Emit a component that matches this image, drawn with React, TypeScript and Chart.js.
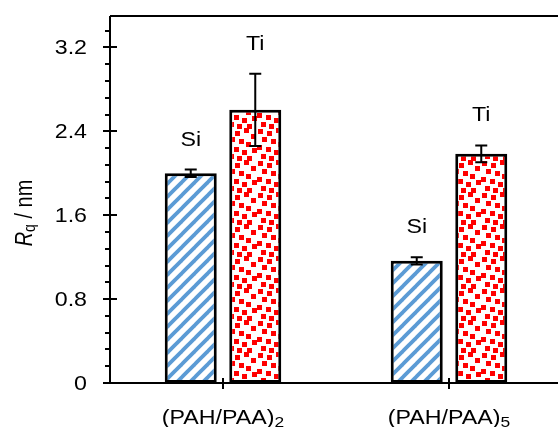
import React, { useEffect, useRef } from "react";
import { Chart, registerables } from "chart.js";

Chart.register(...registerables);

const categoryNames = ["(PAH/PAA)", "(PAH/PAA)"];
const categorySubscripts = ["2", "5"];
const seriesNames = ["Si", "Ti"];
const siValues = [2.0, 1.165];
const siErrors = [0.035, 0.035];
const tiValues = [2.605, 2.186];
const tiErrors = [0.345, 0.08];
const yTickLabels = ["0", "0.8", "1.6", "2.4", "3.2"];
const yMinorStep = 0.16;
const yMin = 0;
const yMax = 3.5;

const FONT = '"Liberation Sans", Arial, sans-serif';
const STRETCH = 1.16;

type Run = { text: string; size: number; italic?: boolean; dy?: number };

function drawRuns(
  ctx: CanvasRenderingContext2D,
  runs: Run[],
  align: "left" | "center" | "right"
) {
  let total = 0;
  const widths = runs.map((r) => {
    ctx.font = `${r.italic ? "italic " : ""}${r.size}px ${FONT}`;
    const w = ctx.measureText(r.text).width;
    total += w;
    return w;
  });
  let x = align === "center" ? -total / 2 : align === "right" ? -total : 0;
  ctx.textBaseline = "alphabetic";
  ctx.textAlign = "left";
  ctx.fillStyle = "#000";
  runs.forEach((r, i) => {
    ctx.font = `${r.italic ? "italic " : ""}${r.size}px ${FONT}`;
    ctx.fillText(r.text, x, r.dy || 0);
    x += widths[i];
  });
}

function makeStripePattern(ctx: CanvasRenderingContext2D) {
  const s = 13;
  const c = document.createElement("canvas");
  c.width = s;
  c.height = s;
  const g = c.getContext("2d")!;
  g.fillStyle = "#fff";
  g.fillRect(0, 0, s, s);
  g.strokeStyle = "#5B9BD5";
  g.lineWidth = 3.8;
  g.lineCap = "square";
  for (const k of [-s, 0, s]) {
    g.beginPath();
    g.moveTo(k, s);
    g.lineTo(k + s, 0);
    g.stroke();
  }
  return ctx.createPattern(c, "repeat")!;
}

function makeDotPattern(ctx: CanvasRenderingContext2D) {
  const s = 32;
  const c = document.createElement("canvas");
  c.width = s;
  c.height = s;
  const g = c.getContext("2d")!;
  g.fillStyle = "#fff";
  g.fillRect(0, 0, s, s);
  g.fillStyle = "#FF0000";
  const pts = [
    [2, 1], [11, 3], [20, 0], [27, 6],
    [6, 9], [15, 11], [22, 14],
    [1, 17], [10, 19], [18, 22], [28, 20],
    [5, 26], [13, 28], [23, 28],
  ];
  const q = 5;
  for (const [x, y] of pts) {
    for (const ox of [0, -s]) {
      for (const oy of [0, -s]) {
        g.fillRect(x + ox, y + oy, q, q);
      }
    }
  }
  return ctx.createPattern(c, "repeat")!;
}

const errors = [siErrors, tiErrors];

const decorPlugin = {
  id: "decor",
  afterDatasetsDraw(chart: any) {
    const ctx: CanvasRenderingContext2D = chart.ctx;
    const area = chart.chartArea;
    const xs = chart.scales.x;
    const ys = chart.scales.y;
    ctx.save();
    ctx.strokeStyle = "#000";
    ctx.lineWidth = 2;

    // error bars and series labels
    chart.data.datasets.forEach((ds: any, di: number) => {
      const meta = chart.getDatasetMeta(di);
      meta.data.forEach((el: any, i: number) => {
        const v = ds.data[i];
        const e = errors[di][i];
        const yt = ys.getPixelForValue(v + e);
        const yb = ys.getPixelForValue(v - e);
        const x = el.x;
        ctx.beginPath();
        ctx.moveTo(x, yt);
        ctx.lineTo(x, yb);
        ctx.moveTo(x - 6, yt);
        ctx.lineTo(x + 6, yt);
        ctx.moveTo(x - 6, yb);
        ctx.lineTo(x + 6, yb);
        ctx.stroke();
        ctx.save();
        ctx.translate(x, yt - 24);
        ctx.scale(STRETCH, 1);
        drawRuns(ctx, [{ text: seriesNames[di], size: 20 }], "center");
        ctx.restore();
      });
    });

    // axes lines
    const L = Math.round(area.left);
    const B = Math.round(area.bottom);
    const T = Math.round(area.top);
    ctx.beginPath();
    ctx.moveTo(L, T);
    ctx.lineTo(L, B);
    ctx.moveTo(L, T);
    ctx.lineTo(chart.width, T);
    ctx.moveTo(L - 7, B);
    ctx.lineTo(chart.width, B);
    ctx.stroke();

    // y ticks major
    yTickLabels.forEach((lab) => {
      const y = Math.round(ys.getPixelForValue(parseFloat(lab)));
      ctx.beginPath();
      ctx.moveTo(L - 7, y);
      ctx.lineTo(L + 7, y);
      ctx.stroke();
      ctx.save();
      ctx.translate(L - 23, y + 7);
      ctx.scale(STRETCH, 1);
      drawRuns(ctx, [{ text: lab, size: 20 }], "right");
      ctx.restore();
    });
    // y minor ticks
    for (let k = 1; k * yMinorStep <= yMax + 1e-9; k++) {
      if (k % 5 === 0) continue;
      const y = Math.round(ys.getPixelForValue(k * yMinorStep));
      ctx.beginPath();
      ctx.moveTo(L - 5, y);
      ctx.lineTo(L, y);
      ctx.stroke();
    }

    // x category ticks and labels
    categoryNames.forEach((name, i) => {
      const x = Math.round(xs.getPixelForValue(i));
      ctx.beginPath();
      ctx.moveTo(x, B - 5);
      ctx.lineTo(x, B + 6);
      ctx.stroke();
      ctx.save();
      ctx.translate(x, 424);
      ctx.scale(STRETCH, 1);
      drawRuns(
        ctx,
        [
          { text: name, size: 20 },
          { text: categorySubscripts[i], size: 15, dy: 3 },
        ],
        "center"
      );
      ctx.restore();
    });

    // y title
    ctx.save();
    ctx.translate(32, 213);
    ctx.rotate(-Math.PI / 2);
    ctx.scale(1, STRETCH);
    drawRuns(
      ctx,
      [
        { text: "R", size: 20, italic: true },
        { text: "q", size: 14, dy: 3 },
        { text: " / nm", size: 20 },
      ],
      "center"
    );
    ctx.restore();

    ctx.restore();
  },
};

export default function App() {
  const ref = useRef<HTMLCanvasElement>(null);
  useEffect(() => {
    const canvas = ref.current!;
    const ctx = canvas.getContext("2d")!;
    const stripes = makeStripePattern(ctx);
    const dots = makeDotPattern(ctx);
    const chart = new Chart(canvas, {
      type: "bar",
      data: {
        labels: categoryNames.map((n, i) => n + categorySubscripts[i]),
        datasets: [
          {
            label: seriesNames[0],
            data: siValues,
            backgroundColor: stripes as any,
            borderColor: "#000",
            borderWidth: 3,
            borderSkipped: false,
            categoryPercentage: 0.571,
            barPercentage: 0.806,
          },
          {
            label: seriesNames[1],
            data: tiValues,
            backgroundColor: dots as any,
            borderColor: "#000",
            borderWidth: 3,
            borderSkipped: false,
            categoryPercentage: 0.571,
            barPercentage: 0.806,
          },
        ],
      },
      options: {
        responsive: false,
        animation: false,
        devicePixelRatio: 1,
        layout: { padding: { left: 0, right: 18, top: 16, bottom: 0 } },
        plugins: { legend: { display: false }, tooltip: { enabled: false } },
        scales: {
          x: {
            type: "category",
            offset: true,
            grid: { display: false, drawTicks: false },
            border: { display: false },
            ticks: { display: false },
            afterFit: (s: any) => {
              s.height = 44;
            },
          },
          y: {
            type: "linear",
            min: yMin,
            max: yMax,
            grid: { display: false, drawTicks: false },
            border: { display: false },
            ticks: { display: false },
            afterFit: (s: any) => {
              s.width = 110;
            },
          },
        },
      },
      plugins: [decorPlugin],
    });
    return () => chart.destroy();
  }, []);
  return (
    <div
      style={{
        position: "fixed",
        left: 0,
        top: 0,
        width: 558,
        height: 427,
        overflow: "hidden",
        background: "#fff",
      }}
    >
      <canvas ref={ref} width={580} height={427} style={{ display: "block" }} />
    </div>
  );
}
